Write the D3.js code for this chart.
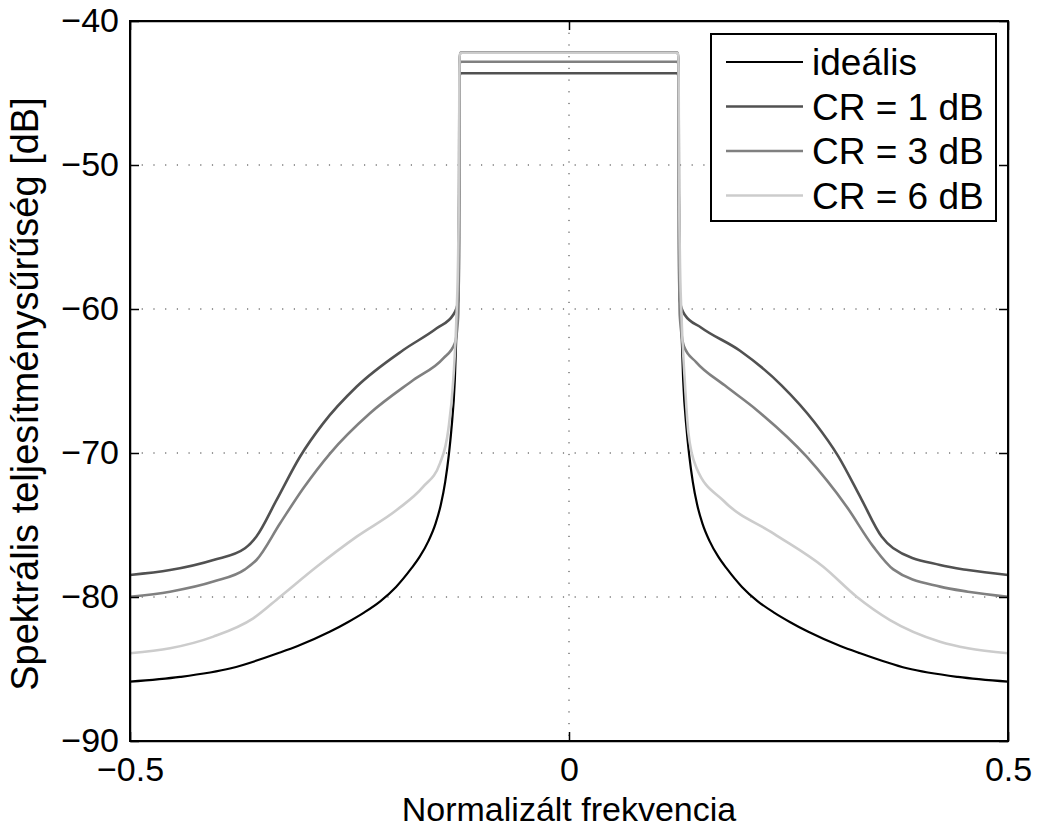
<!DOCTYPE html>
<html lang="hu">
<head>
  <meta charset="UTF-8">
  <title>Spektrális teljesítménysűrűség</title>
  <script src="https://d3js.org/d3.v7.min.js"></script>
  <style>
    html, body { margin:0; background:#fff; }
    svg { display:block; font-family:"Liberation Sans", Arial, Helvetica, sans-serif; }
    .grid line { stroke:#333; stroke-width:1; stroke-dasharray:1.2,10.5; }
    .axis path, .axis line { stroke:#000; stroke-width:1.5; }
    .axis text { font-size:34px; fill:#000; }
    .curve { fill:none; stroke-linejoin:round; }
  </style>
</head>
<body>
<svg id="chart" width="1039" height="827"></svg>
<script>
// series: [normalised frequency, dB]
const ideal = [
  [-0.5,-85.88],[-0.443,-85.55],[-0.385,-84.95],[-0.329,-83.85],[-0.309,-83.4],
  [-0.272,-82.4],[-0.252,-81.75],[-0.234,-81.1],[-0.215,-80.3],[-0.197,-79.3],
  [-0.180,-78.05],[-0.170,-77.2],[-0.160,-76.1],[-0.152,-74.9],[-0.146,-73.6],
  [-0.141,-72.0],[-0.137,-70.2],[-0.134,-68.4],[-0.130,-64.9],[-0.1275,-60.3],
  [-0.126,-58.0],[-0.1252,-52],[-0.1249,-44],[-0.1245,-42.5],[-0.1235,-42.2],[0,-42.2],
  [0.1235,-42.2],[0.1245,-42.5],[0.1249,-44],[0.1252,-52],[0.126,-58.0],
  [0.1275,-60.3],[0.130,-64.9],[0.134,-68.4],[0.137,-70.2],[0.141,-72.0],
  [0.146,-73.6],[0.152,-74.9],[0.160,-76.1],[0.170,-77.2],[0.180,-78.05],
  [0.197,-79.3],[0.215,-80.3],[0.234,-81.1],[0.252,-81.75],[0.272,-82.4],
  [0.309,-83.4],[0.329,-83.85],[0.385,-84.95],[0.443,-85.55],[0.5,-85.88]
];
const cr1 = [
  [-0.5,-78.47],[-0.4544,-78.13],[-0.405,-77.43],[-0.369,-76.62],[-0.356,-75.8],
  [-0.333,-73.26],[-0.3064,-70.26],[-0.280,-67.94],[-0.242,-65.4],[-0.1887,-62.85],
  [-0.1507,-61.34],[-0.1318,-60.4],[-0.126,-59.4],[-0.1252,-55],[-0.1249,-45],
  [-0.1245,-43.8],[-0.1235,-43.63],[0,-43.63],
  [0.1235,-43.63],[0.1245,-43.8],[0.1249,-45],[0.1252,-55],[0.126,-59.4],
  [0.1318,-60.4],[0.1507,-61.3],[0.1948,-62.9],[0.242,-65.3],[0.280,-67.9],
  [0.3064,-70.2],[0.333,-73.2],[0.356,-75.8],[0.369,-76.6],[0.4226,-77.78],
  [0.4544,-78.13],[0.5,-78.47]
];
const cr3 = [
  [-0.5,-79.98],[-0.4544,-79.63],[-0.405,-78.93],[-0.369,-78.08],[-0.356,-77.43],
  [-0.329,-74.88],[-0.3026,-72.45],[-0.272,-70.02],[-0.2267,-67.24],[-0.1773,-64.93],
  [-0.1432,-63.43],[-0.130,-62.38],[-0.1262,-60.5],[-0.1252,-55],[-0.1249,-45],
  [-0.1245,-43.0],[-0.1235,-42.83],[0,-42.83],
  [0.1235,-42.83],[0.1245,-43.0],[0.1249,-45],[0.1252,-55],[0.1262,-60.5],
  [0.131,-62.6],[0.145,-63.7],[0.1773,-65.3],[0.2137,-67.01],[0.2707,-70.26],[0.3163,-73.73],
  [0.3466,-76.5],[0.3694,-78.08],[0.4226,-79.28],[0.4544,-79.63],[0.5,-79.98]
];
const cr6 = [
  [-0.5,-83.91],[-0.4544,-83.56],[-0.405,-82.75],[-0.3596,-81.48],[-0.329,-79.98],
  [-0.2874,-77.9],[-0.2418,-75.81],[-0.1963,-73.96],[-0.166,-72.34],[-0.147,-70.72],
  [-0.1375,-68.4],[-0.1318,-64.93],[-0.128,-60.3],[-0.1262,-56],[-0.1252,-50],
  [-0.1249,-44],[-0.1245,-42.4],[-0.1235,-42.2],[0,-42.2],
  [0.1235,-42.2],[0.1245,-42.4],[0.1249,-44],[0.1252,-50],[0.1262,-56],
  [0.128,-60.3],[0.1318,-64.93],[0.136,-68.6],[0.145,-71.0],[0.1757,-73.3],
  [0.2327,-75.58],[0.2896,-77.9],[0.3276,-79.98],[0.3656,-81.6],[0.4226,-83.1],
  [0.4544,-83.56],[0.5,-83.91]
];

const seriesNames  = ["ideális", "CR = 1 dB", "CR = 3 dB", "CR = 6 dB"];
const seriesData   = [ideal, cr1, cr3, cr6];
const seriesColors = ["#000000", "#515151", "#808080", "#cccccc"];
const seriesWidths = [2.2, 2.6, 2.6, 2.6];

const xTicks = [-0.5, 0, 0.5];
const yTicks = [-90, -80, -70, -60, -50, -40];
const xGrid  = [0];
const yGrid  = [-80, -70, -60, -50];

const svg = d3.select("#chart");
const m = {left:130, top:21, right:1008, bottom:741};

const x = d3.scaleLinear().domain([-0.5, 0.5]).range([m.left, m.right]);
const y = d3.scaleLinear().domain([-90, -40]).range([m.bottom, m.top]);

// grid
const grid = svg.append("g").attr("class","grid");
grid.selectAll(".gx").data(xGrid).join("line")
  .attr("x1", d=>x(d)).attr("x2", d=>x(d)).attr("y1", m.top).attr("y2", m.bottom);
grid.selectAll(".gy").data(yGrid).join("line")
  .attr("y1", d=>y(d)).attr("y2", d=>y(d)).attr("x1", m.left).attr("x2", m.right);

// curves
const line = d3.line().x(d=>x(d[0])).y(d=>y(d[1])).curve(d3.curveMonotoneX);
svg.append("g").selectAll("path").data(seriesData).join("path")
  .attr("class","curve")
  .attr("d", line)
  .attr("stroke", (d,i)=>seriesColors[i])
  .attr("stroke-width", (d,i)=>seriesWidths[i]);

// axes, ticks inside like matlab
const minus = d => String(d).replace("-","\u2212");
svg.append("g").attr("class","axis")
  .attr("transform",`translate(${m.left},0)`)
  .call(d3.axisLeft(y).tickValues(yTicks).tickSize(-9).tickPadding(11).tickSizeOuter(0).tickFormat(minus));
svg.append("g").attr("class","axis")
  .attr("transform",`translate(0,${m.bottom})`)
  .call(d3.axisBottom(x).tickValues(xTicks).tickSize(-9).tickPadding(16).tickSizeOuter(0).tickFormat(minus));
svg.append("g").attr("class","axis")
  .attr("transform",`translate(${m.right},0)`)
  .call(d3.axisRight(y).tickValues(yTicks).tickSize(-9).tickSizeOuter(0).tickFormat(""));
svg.append("g").attr("class","axis")
  .attr("transform",`translate(0,${m.top})`)
  .call(d3.axisTop(x).tickValues(xTicks).tickSize(-9).tickSizeOuter(0).tickFormat(""));
svg.selectAll(".axis text").attr("font-family", null).attr("font-size", null);

// frame
svg.append("rect")
  .attr("x", m.left).attr("y", m.top)
  .attr("width", m.right-m.left).attr("height", m.bottom-m.top)
  .attr("fill","none").attr("stroke","#000").attr("stroke-width",2);

// axis titles
svg.append("text")
  .attr("x", (m.left+m.right)/2).attr("y", 821)
  .attr("text-anchor","middle").attr("font-size",34)
  .text("Normalizált frekvencia");
svg.append("text")
  .attr("transform", `translate(38,394) rotate(-90)`)
  .attr("text-anchor","middle").attr("font-size",38)
  .text("Spektrális teljesítménysűrűség [dB]");

// legend
const lg = svg.append("g");
lg.append("rect")
  .attr("x",711).attr("y",34).attr("width",285).attr("height",187)
  .attr("fill","#fff").attr("stroke","#000").attr("stroke-width",2);
const rows = lg.selectAll(".row").data(seriesNames).join("g")
  .attr("transform",(d,i)=>`translate(0,${62 + i*44.5})`);
rows.append("line")
  .attr("x1",726).attr("x2",803).attr("y1",0).attr("y2",0)
  .attr("stroke",(d,i)=>seriesColors[i])
  .attr("stroke-width",(d,i)=>seriesWidths[i]);
rows.append("text")
  .attr("x",812).attr("y",13)
  .attr("font-size",37)
  .text(d=>d);
</script>
</body>
</html>
